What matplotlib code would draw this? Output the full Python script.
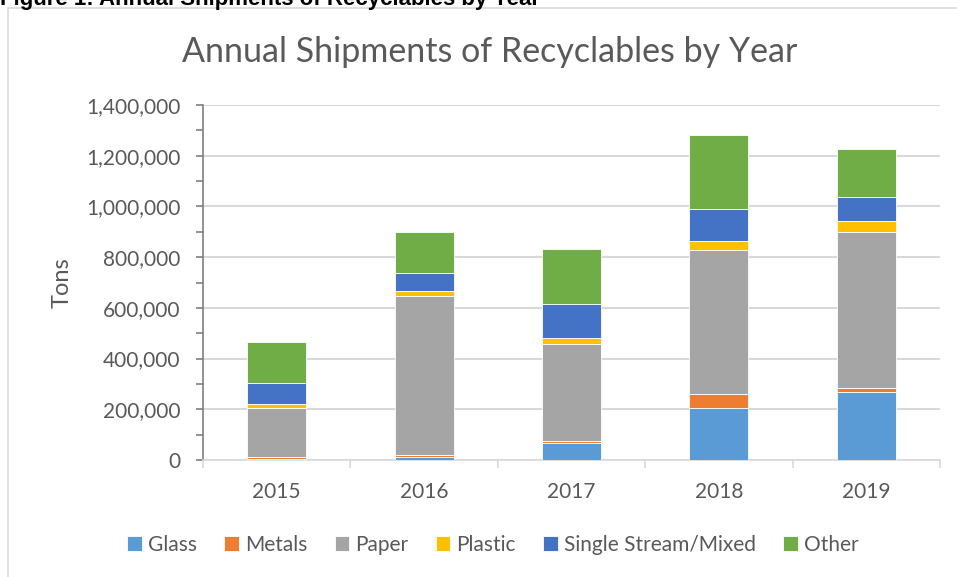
import numpy as np
import matplotlib
matplotlib.use("Agg")
import matplotlib.pyplot as plt
from matplotlib.patches import Rectangle
from matplotlib.ticker import FuncFormatter, MultipleLocator

plt.rcParams['font.family'] = ['Lato', 'DejaVu Sans']

# data (tons)
years = ['2015', '2016', '2017', '2018', '2019']
glass = [2000, 13000, 67000, 204000, 267000]
metals = [8000, 8000, 8000, 57000, 18000]
paper = [194000, 627000, 384000, 567000, 615000]
plastic = [17000, 20000, 21000, 36000, 41000]
single_stream = [81000, 68000, 135000, 124000, 97000]
other = [164000, 162000, 217000, 293000, 188000]

series = [('Glass', glass, '#5b9bd5'),
          ('Metals', metals, '#ed7d31'),
          ('Paper', paper, '#a5a5a5'),
          ('Plastic', plastic, '#ffc000'),
          ('Single Stream/Mixed', single_stream, '#4472c4'),
          ('Other', other, '#70ad47')]

fig = plt.figure(figsize=(9.57, 5.77), dpi=100)
ax = fig.add_axes([203 / 957, 1 - 460 / 577, 737 / 957, 355 / 577])

# chart frame and clipped caption above it
fig.patches.append(Rectangle((8 / 957, -0.1), 1.2, 1 - 8 / 577 + 0.1,
                             transform=fig.transFigure, fill=False,
                             edgecolor='#d9d9d9', linewidth=1.2))
fig.text(0.0, 1.0, 'Figure 1: Annual Shipments of Recyclables by Year',
         fontsize=16, fontweight='bold', family='Liberation Sans',
         ha='left', va='center', color='black')

x = np.arange(len(years))
bottom = np.zeros(len(years))
for name, vals, col in series:
    ax.bar(x, vals, 0.4, bottom=bottom, color=col, label=name,
           edgecolor='white', linewidth=0.6, zorder=3)
    bottom += np.array(vals)

ax.set_xlim(-0.5, 4.5)
ax.set_ylim(0, 1400000)
ax.yaxis.set_major_locator(MultipleLocator(200000))
ax.yaxis.set_minor_locator(MultipleLocator(100000))
ax.yaxis.set_major_formatter(FuncFormatter(lambda v, p: f'{int(v):,}'))
ax.grid(axis='y', color='#d9d9d9', linewidth=1.5, zorder=0)
ax.set_axisbelow(True)

ax.set_xticks(x)
ax.set_xticklabels(years)
ax.set_xticks(np.arange(-0.5, 5, 1), minor=True)
ax.tick_params(axis='x', which='major', length=0, pad=16, labelsize=15,
               labelcolor='#595959')
ax.tick_params(axis='x', which='minor', length=6, color='#d9d9d9', width=1.2)
ax.tick_params(axis='y', which='both', direction='out', length=5,
               color='#7f7f7f', width=1.2, labelsize=15, labelcolor='#595959',
               pad=11)

for s in ['top', 'right']:
    ax.spines[s].set_visible(False)
ax.spines['left'].set_color('#7f7f7f')
ax.spines['left'].set_linewidth(1.2)
ax.spines['bottom'].set_color('#d9d9d9')
ax.spines['bottom'].set_linewidth(1.2)

fig.text(62 / 957, 1 - 283 / 577, 'Tons', rotation=90, fontsize=17,
         color='#595959', ha='center', va='center')
fig.text(490 / 957, 1 - 52 / 577, 'Annual Shipments of Recyclables by Year',
         fontsize=24.5, color='#595959', ha='center', va='center')

handles, labels = ax.get_legend_handles_labels()
fig.legend(handles, labels, loc='center', bbox_to_anchor=(493 / 957, 1 - 545 / 577),
           ncol=6, frameon=False, fontsize=15, handlelength=0.7,
           handleheight=0.7, handletextpad=0.3, columnspacing=1.3,
           labelcolor='#595959')

fig.savefig('out.png', dpi=100)
